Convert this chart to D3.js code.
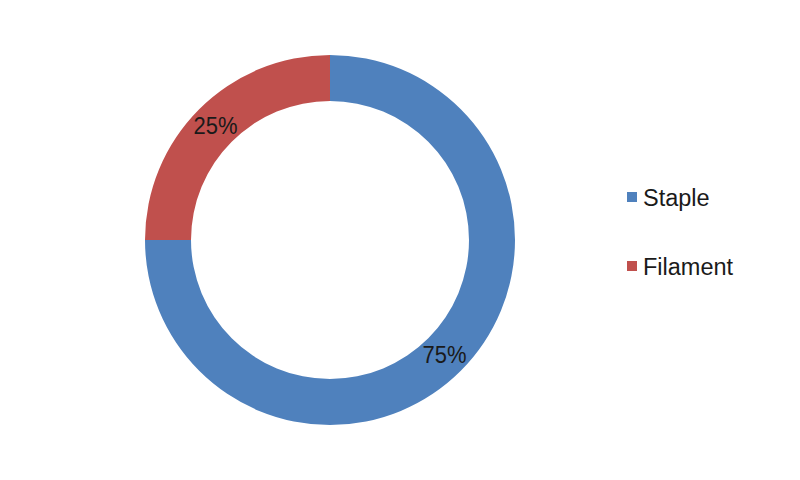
<!DOCTYPE html>
<html>
<head>
<meta charset="utf-8">
<script src="https://cdn.jsdelivr.net/npm/d3@7"></script>
<style>
  html, body { margin: 0; padding: 0; background: #ffffff; }
  svg { display: block; }
  text { font-family: "Liberation Sans", Arial, sans-serif; }
</style>
</head>
<body>
<svg id="chart" width="800" height="480"></svg>
<script>
const categories = ["Staple", "Filament"];
const values = [75, 25];
const labels = ["75%", "25%"];
const colors = ["#4F81BD", "#C0504D"];

const svg = d3.select("#chart");
const cx = 330, cy = 240, outerR = 185, innerR = 139;

const pie = d3.pie().sort(null).value(d => d.value);
const data = categories.map((c, i) => ({ name: c, value: values[i], label: labels[i], color: colors[i] }));
const arcs = pie(data);
const arc = d3.arc().innerRadius(innerR).outerRadius(outerR);

const g = svg.append("g").attr("transform", `translate(${cx},${cy})`);
g.selectAll("path.slice").data(arcs).enter().append("path")
  .attr("class", "slice")
  .attr("d", arc)
  .attr("fill", d => d.data.color);

g.selectAll("text.lbl").data(arcs).enter().append("text")
  .attr("class", "lbl")
  .attr("transform", d => { const c = arc.centroid(d); return `translate(${c[0]},${c[1]}) scale(1,1.12)`; })
  .attr("text-anchor", "middle")
  .attr("dy", "0.36em")
  .attr("font-size", 22)
  .attr("fill", "#1a1a1a")
  .text(d => d.data.label);

// legend
const legend = svg.append("g").attr("transform", "translate(627,192)");
const item = legend.selectAll("g.item").data(data).enter().append("g")
  .attr("class", "item")
  .attr("transform", (d, i) => `translate(0,${i * 69})`);
item.append("rect").attr("x", 0).attr("y", 0).attr("width", 10).attr("height", 10).attr("fill", d => d.color);
item.append("text")
  .attr("x", 16)
  .attr("y", 14)
  .attr("font-size", 23.5)
  .attr("fill", "#1a1a1a")
  .text(d => d.name);
</script>
</body>
</html>
